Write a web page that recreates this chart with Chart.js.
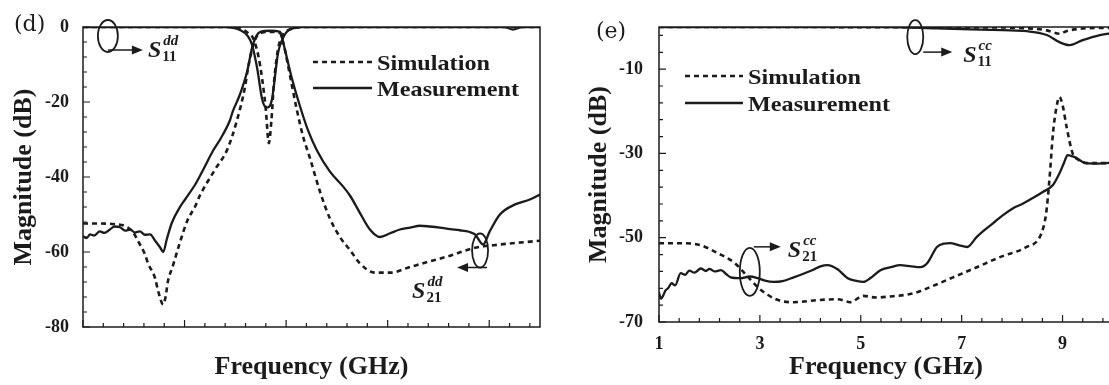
<!DOCTYPE html>
<html>
<head>
<meta charset="utf-8">
<script src="https://cdn.jsdelivr.net/npm/chart.js@4.4.1/dist/chart.umd.min.js"></script>
<style>
html, body { margin: 0; padding: 0; background: #fff; overflow: hidden; width: 1109px; height: 385px; }
canvas { position: absolute; top: 0; }
#chartD { left: 0; }
#chartE { left: 545px; }
</style>
</head>
<body>
<canvas id="chartD" width="560" height="385"></canvas>
<canvas id="chartE" width="575" height="385"></canvas>
<script>
// panel (d): differential mode, [GHz, dB]
const dS11Sim = [[1,0],[4.0,0],[4.1,-0.3],[4.25,-1.6],[4.35,-3],[4.45,-7.5],[4.53,-14],[4.60,-22],[4.66,-31],[4.71,-25],[4.76,-15],[4.84,-6],[4.92,-2.5],[5.02,-1],[5.2,-0.2],[5.4,0],[10,0]];
const dS11Meas = [[1,0],[3.8,0],[4.09,-0.8],[4.25,-2.5],[4.33,-4.8],[4.43,-11],[4.53,-19.4],[4.62,-21.5],[4.72,-19.4],[4.84,-7],[4.92,-3.5],[5.0,-1.5],[5.1,-0.5],[5.3,0],[9.3,0],[9.47,-0.7],[9.65,0],[10,0]];
const dS21Sim = [[1.0,-52.4],[1.3,-52.4],[1.63,-52.6],[1.85,-53.2],[2.0,-55],[2.08,-57],[2.22,-60.6],[2.28,-63],[2.42,-67],[2.48,-70.4],[2.58,-74],[2.63,-71.7],[2.67,-68],[2.77,-63.7],[2.91,-57.4],[3.05,-51.8],[3.21,-47.8],[3.30,-45],[3.60,-38],[3.84,-32.7],[4.03,-25],[4.19,-16],[4.25,-11],[4.33,-6],[4.41,-2.8],[4.49,-1.7],[4.68,-1.3],[4.88,-1.6],[4.94,-4],[5.02,-9],[5.12,-16],[5.21,-22],[5.33,-29],[5.47,-35],[5.67,-44],[5.86,-51],[6.06,-56],[6.26,-59.5],[6.45,-63],[6.75,-65.5],[7.05,-65.5],[7.44,-64],[7.83,-62.5],[8.23,-61],[8.68,-59],[9.21,-58],[10,-57]];
const dS21Meas = [[1.00,-55.8],[1.07,-56.3],[1.14,-55.3],[1.22,-55.6],[1.33,-54.5],[1.42,-54.9],[1.53,-54],[1.62,-53.2],[1.73,-53.4],[1.83,-54.3],[1.93,-54],[2.02,-54.8],[2.12,-54.5],[2.22,-55.4],[2.32,-55.3],[2.42,-57],[2.52,-58.8],[2.58,-60],[2.65,-56.6],[2.75,-52.2],[2.91,-48],[3.01,-46],[3.21,-42],[3.40,-37.2],[3.56,-33],[3.70,-30],[3.89,-25],[3.95,-22.5],[4.09,-18],[4.23,-12],[4.33,-5.5],[4.41,-2.5],[4.49,-1.3],[4.68,-1.0],[4.88,-1.3],[4.94,-4],[5.02,-8.5],[5.12,-14],[5.27,-21],[5.43,-27.5],[5.61,-33],[5.86,-38.5],[6.12,-42.5],[6.26,-45],[6.45,-49.5],[6.65,-54],[6.85,-56],[7.05,-55],[7.24,-54],[7.44,-53.5],[7.64,-53],[7.83,-53.2],[8.03,-53.5],[8.23,-53.9],[8.42,-54.2],[8.60,-54.6],[8.72,-55.3],[8.88,-58],[9.01,-54.5],[9.21,-50],[9.51,-47.3],[9.80,-46],[10.0,-44.7]];

// panel (e): common mode, [GHz, dB]
const eS11Sim = [[1,0],[7.5,-0.1],[8.29,-0.3],[8.69,-0.8],[8.94,-1.6],[9.1,-0.9],[9.48,-0.3],[10,-0.2]];
const eS11Meas = [[1,0],[5.5,0],[6.5,-0.3],[7.6,-0.7],[8.3,-1.0],[8.69,-1.9],[8.94,-3.6],[9.14,-4.3],[9.40,-3.1],[9.74,-1.9],[10,-1.4]];
const eS21Sim = [[1.00,-51.3],[1.5,-51.3],[1.83,-51.8],[2.17,-53.7],[2.5,-56],[2.77,-59.4],[3.02,-62.4],[3.36,-64.8],[3.67,-65.3],[4.14,-64.8],[4.54,-64.6],[4.79,-65.3],[5.05,-63.8],[5.3,-64.2],[5.53,-64],[6.04,-63.2],[6.38,-61.7],[6.83,-59.4],[7.30,-57],[7.76,-54.6],[8.29,-52.2],[8.55,-49.8],[8.65,-46],[8.69,-42.7],[8.75,-34.7],[8.81,-25.2],[8.88,-19],[8.94,-16.6],[9.0,-18.5],[9.08,-23.7],[9.20,-30],[9.3,-31.4],[9.48,-32.3],[9.87,-32.3],[10,-32.1]];
const eS21Meas = [[1.00,-63],[1.04,-64.5],[1.08,-63.8],[1.13,-62.5],[1.18,-62],[1.25,-60.8],[1.32,-61.3],[1.43,-58.4],[1.52,-58.8],[1.6,-57.8],[1.7,-58.3],[1.83,-57.3],[1.93,-57.9],[2.0,-57.4],[2.1,-58],[2.23,-57.7],[2.33,-58.6],[2.42,-59.4],[2.62,-59.6],[2.80,-59.2],[2.96,-59.6],[3.1,-60.2],[3.27,-60.5],[3.45,-60.3],[3.67,-59.4],[3.85,-58.6],[4.06,-57.6],[4.2,-56.8],[4.34,-56.5],[4.54,-57.5],[4.74,-59.6],[4.9,-60.2],[5.05,-60.5],[5.2,-59.5],[5.39,-57.7],[5.6,-57],[5.78,-56.5],[6.0,-56.8],[6.18,-57],[6.32,-56],[6.51,-52.2],[6.65,-51.4],[6.77,-51.3],[6.95,-51.8],[7.11,-52.2],[7.30,-49.8],[7.45,-48.2],[7.62,-46.6],[7.8,-44.8],[8.02,-43],[8.2,-42],[8.41,-40.6],[8.6,-39.2],[8.81,-37.5],[8.94,-34.7],[9.03,-32.2],[9.10,-30.4],[9.2,-30.7],[9.28,-31.1],[9.38,-31.9],[9.48,-32.3],[9.7,-32.4],[9.87,-32.3],[10,-32.1]];

const xTicks = [1, 3, 5, 7, 9];
const dYTicks = [0, -20, -40, -60, -80];
const eYTicks = [-70, -50, -30, -10];
const seriesNames = ['Simulation', 'Measurement'];

const INK = '#1b1b1b';
const SERIF = "'Liberation Serif', 'Times New Roman', serif";

function toPts(arr) {
    return arr.map(p => ({ x: p[0], y: p[1] }));
}
function simSet(arr) {
    return { label: seriesNames[0], data: toPts(arr), borderColor: INK, borderWidth: 2.6, borderDash: [5, 4],
        pointRadius: 0, fill: false, cubicInterpolationMode: 'monotone' };
}
function measSet(arr) {
    return { label: seriesNames[1], data: toPts(arr), borderColor: INK, borderWidth: 2.3,
        pointRadius: 0, fill: false, cubicInterpolationMode: 'monotone' };
}

// frame, inward ticks, legend, ellipse callouts, panel tag
const decor = {
    id: 'decor',
    afterDatasetsDraw(chart, args, o) {
        const { ctx, chartArea: a } = chart;
        const xs = chart.scales.x, ys = chart.scales.y;
        ctx.save();
        ctx.strokeStyle = INK;
        ctx.fillStyle = INK;
        ctx.lineWidth = 1.5;
        ctx.strokeRect(a.left, a.top, a.right - a.left, a.bottom - a.top);

        ctx.lineWidth = 1.2;
        ctx.beginPath();
        for (let i = 0; ; i++) {
            const v = xs.min + i * 0.4;
            if (v > xs.max + 1e-6) break;
            const px = xs.getPixelForValue(v);
            ctx.moveTo(px, a.bottom);
            ctx.lineTo(px, a.bottom - (i % 5 === 0 ? 7 : 4));
        }
        for (let i = 0; ; i++) {
            const v = ys.min + i * 4;
            if (v > ys.max + 1e-6) break;
            const py = ys.getPixelForValue(v);
            ctx.moveTo(a.left, py);
            ctx.lineTo(a.left + (i % 5 === 0 ? 7 : 4), py);
        }
        ctx.stroke();

        // legend
        const L = o.legend;
        ctx.font = 'bold 22px ' + SERIF;
        ctx.textAlign = 'left';
        ctx.textBaseline = 'alphabetic';
        seriesNames.forEach((name, i) => {
            const x0 = a.left + L.dx, y0 = a.top + L.dy + i * L.gap;
            ctx.setLineDash(i === 0 ? [5, 4] : []);
            ctx.lineWidth = 2.6;
            ctx.beginPath();
            ctx.moveTo(x0, y0);
            ctx.lineTo(x0 + L.len, y0);
            ctx.stroke();
            ctx.setLineDash([]);
            ctx.save();
            ctx.translate(x0 + L.len + 5, y0 + 8);
            ctx.scale(1.1, 1);
            ctx.fillText(name, 0, 0);
            ctx.restore();
        });

        // S-parameter callouts
        o.marks.forEach(m => {
            const cx = xs.getPixelForValue(m.f), cy = ys.getPixelForValue(m.db);
            ctx.lineWidth = 1.8;
            ctx.beginPath();
            ctx.ellipse(cx, cy, m.rx, m.ry, 0, 0, Math.PI * 2);
            ctx.stroke();
            const x1 = cx + m.arrow[0], y1 = cy + m.arrow[1], x2 = cx + m.arrow[2], y2 = cy + m.arrow[3];
            const dir = Math.sign(x2 - x1);
            ctx.lineWidth = 1.5;
            ctx.beginPath();
            ctx.moveTo(x1, y1);
            ctx.lineTo(x2 - dir * 4, y2);
            ctx.stroke();
            ctx.beginPath();
            ctx.moveTo(x2, y2);
            ctx.lineTo(x2 - dir * 11, y2 - 4.5);
            ctx.lineTo(x2 - dir * 11, y2 + 4.5);
            ctx.closePath();
            ctx.fill();
            const sx = cx + m.text[0], sy = cy + m.text[1];
            ctx.font = 'italic bold 24px ' + SERIF;
            ctx.fillText('S', sx, sy);
            const w = ctx.measureText('S').width;
            ctx.font = 'italic bold 15px ' + SERIF;
            ctx.fillText(m.sup, sx + w + 2, sy - 12);
            ctx.font = 'bold 15px ' + SERIF;
            ctx.fillText(m.sub, sx + w + 1, sy + 4);
        });

        ctx.font = '22px "DejaVu Serif"';
        ctx.textBaseline = 'middle';
        ctx.fillText(o.tag.text, o.tag.x, o.tag.y);
        ctx.restore();
    }
};

function axisTitle(text, pad) {
    return { display: true, text: text, color: INK, padding: pad,
        font: { family: SERIF, size: 26, weight: 'bold' } };
}

function makeChart(id, sets, cfg) {
    return new Chart(document.getElementById(id), {
        type: 'line',
        data: { datasets: sets },
        plugins: [decor],
        options: {
            responsive: false,
            animation: false,
            devicePixelRatio: 1,
            layout: { padding: cfg.padding },
            plugins: {
                legend: { display: false },
                tooltip: { enabled: false },
                decor: cfg.decor
            },
            scales: {
                x: {
                    type: 'linear', min: 1, max: 10,
                    afterBuildTicks: s => { s.ticks = xTicks.map(v => ({ value: v })); },
                    afterFit: s => { s.height = cfg.xHeight; },
                    grid: { display: false },
                    border: { display: false },
                    ticks: { display: cfg.xLabels, padding: 4, color: INK,
                        font: { family: SERIF, size: 18, weight: 'bold' } },
                    title: axisTitle('Frequency (GHz)', { top: 0, bottom: 2 })
                },
                y: {
                    type: 'linear', min: cfg.yMin, max: 0,
                    afterBuildTicks: s => { s.ticks = cfg.yTicks.map(v => ({ value: v })); },
                    afterFit: s => { s.width = cfg.yWidth; },
                    grid: { display: false },
                    border: { display: false },
                    ticks: { padding: cfg.yPad, color: INK,
                        font: { family: SERIF, size: 18, weight: 'bold' } },
                    title: axisTitle('Magnitude (dB)', { top: 9, bottom: 0 })
                }
            }
        }
    });
}

makeChart('chartD', [simSet(dS11Sim), measSet(dS11Meas), simSet(dS21Sim), measSet(dS21Meas)], {
    padding: { left: 0, right: 20, top: 27, bottom: 0 },
    xHeight: 58, yWidth: 83, yPad: 6, yMin: -80, yTicks: dYTicks, xLabels: false,
    decor: {
        legend: { dx: 230, dy: 35, gap: 26, len: 59 },
        tag: { text: '(d)', x: 14, y: 25 },
        marks: [
            { f: 1.49, db: -2.4, rx: 10, ry: 16, arrow: [0, 14, 35, 14], text: [40, 21], sup: 'dd', sub: '11' },
            { f: 8.82, db: -59.6, rx: 8, ry: 17, arrow: [7, 17, -23, 17], text: [-68, 47], sup: 'dd', sub: '21' }
        ]
    }
});

makeChart('chartE', [simSet(eS11Sim), measSet(eS11Meas), simSet(eS21Sim), measSet(eS21Meas)], {
    padding: { left: 30, right: 7, top: 27, bottom: 0 },
    xHeight: 63, yWidth: 84, yPad: 8, yMin: -70, yTicks: eYTicks, xLabels: true,
    decor: {
        legend: { dx: 26, dy: 49, gap: 27, len: 58 },
        tag: { text: '(e)', x: 51, y: 32 },
        marks: [
            { f: 6.08, db: -2.4, rx: 8, ry: 17, arrow: [8, 15, 37, 15], text: [48, 25], sup: 'cc', sub: '11' },
            { f: 2.80, db: -58.1, rx: 10, ry: 24, arrow: [4, -25, 31, -25], text: [38, -15], sup: 'cc', sub: '21' }
        ]
    }
});
</script>
</body>
</html>
